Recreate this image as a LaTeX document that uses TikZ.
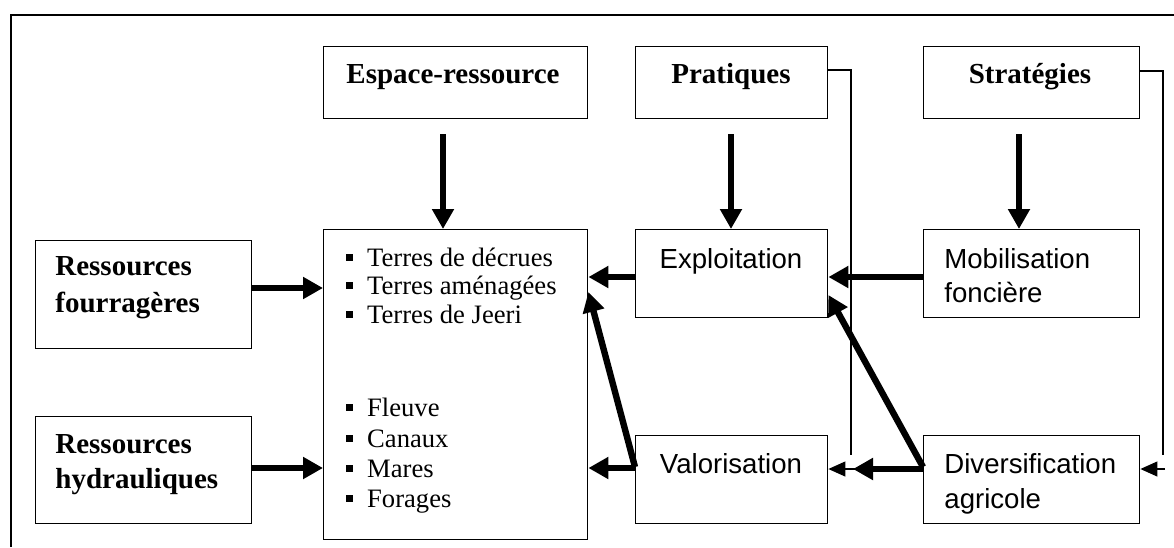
\documentclass[tikz,border=0pt]{standalone}
\usepackage{fontspec}
\setmainfont{Liberation Serif}
\newfontfamily\arialf{Liberation Sans}
\usetikzlibrary{arrows.meta}
\tikzset{
  box/.style={draw, line width=0.7pt, inner sep=0pt, anchor=north west},
  btxt/.style={inner sep=0pt, font=\fontsize{14.5}{17}\selectfont\bfseries},
  itxt/.style={inner sep=0pt, anchor=base west, font=\fontsize{13.3}{16}\selectfont},
  stxt/.style={inner sep=0pt, font=\arialf\fontsize{13.8}{17}\selectfont},
  bigarrow/.style={line width=3.2pt, -{Triangle[length=10pt,width=10.5pt]}},
  thinline/.style={line width=0.6pt},
  thinarrow/.style={line width=0.6pt, -{Triangle[length=8.5pt,width=7.5pt]}},
  frameline/.style={line width=0.8pt}
}
\newcommand{\itm}{\rule[2.6pt]{3.4pt}{3.4pt}\hspace{7pt}}
\begin{document}
\begin{tikzpicture}[x=0.5pt,y=-0.5pt]
\useasboundingbox (0,0) rectangle (1174,547);
% frame
\draw[frameline] (11,547) -- (11,15) -- (1174,15);
% boxes
\node[box, minimum width=132pt, minimum height=36pt] (esp) at (323,46) {};
\node[box, minimum width=96pt, minimum height=36pt] (pra) at (635,46) {};
\node[box, minimum width=108pt, minimum height=36pt] (str) at (923,46) {};
\node[box, minimum width=132pt, minimum height=155pt] (cen) at (323,229) {};
\node[box, minimum width=96pt, minimum height=44pt] (exp) at (635,229) {};
\node[box, minimum width=108pt, minimum height=44pt] (mob) at (923,229) {};
\node[box, minimum width=96pt, minimum height=44pt] (val) at (635,435) {};
\node[box, minimum width=108pt, minimum height=44pt] (div) at (923,435) {};
\node[box, minimum width=108pt, minimum height=54pt] (fou) at (35,240) {};
\node[box, minimum width=108pt, minimum height=53.5pt] (hyd) at (35,416) {};
% texts
\node[btxt, anchor=base] (espT) at (453,83) {Espace-ressource};
\node[btxt, anchor=base] (praT) at (731,83) {Pratiques};
\node[btxt, anchor=base] (strT) at (1030,83) {Stratégies};
\node[btxt, anchor=base west] (fouT1) at (55,275) {Ressources};
\node[btxt, anchor=base west] (fouT2) at (55,312) {fourragères};
\node[btxt, anchor=base west] (hydT1) at (55,453) {Ressources};
\node[btxt, anchor=base west] (hydT2) at (55,488) {hydrauliques};
\node[itxt] (l1) at (346,266) {\itm Terres de décrues};
\node[itxt] (l2) at (346,294) {\itm Terres aménagées};
\node[itxt] (l3) at (346,323) {\itm Terres de Jeeri};
\node[itxt] (l4) at (346,416) {\itm Fleuve};
\node[itxt] (l5) at (346,447) {\itm Canaux};
\node[itxt] (l6) at (346,477) {\itm Mares};
\node[itxt] (l7) at (346,507) {\itm Forages};
\node[stxt, anchor=base] (expT) at (731,268) {Exploitation};
\node[stxt, anchor=base] (valT) at (731,473) {Valorisation};
\node[stxt, anchor=base west] (mobT1) at (944,268) {Mobilisation};
\node[stxt, anchor=base west] (mobT2) at (944,302) {foncière};
\node[stxt, anchor=base west] (divT1) at (944,473) {Diversification};
\node[stxt, anchor=base west] (divT2) at (944,508) {agricole};
% down arrows
\draw[bigarrow, shorten <=7.5pt] (esp.south -| 443,0) -- (cen.north -| 443,0);
\draw[bigarrow, shorten <=7.5pt] (pra.south -| 731,0) -- (exp.north -| 731,0);
\draw[bigarrow, shorten <=7.5pt] (str.south -| 1019,0) -- (mob.north -| 1019,0);
% horizontal thick arrows
\draw[bigarrow] (fou.east |- 0,288) -- (cen.west |- 0,288);
\draw[bigarrow] (hyd.east |- 0,468) -- (cen.west |- 0,468);
\draw[bigarrow] (exp.west |- 0,277) -- (cen.east |- 0,277);
\draw[bigarrow] (mob.west |- 0,277) -- (exp.east |- 0,277);
\draw[bigarrow] (val.west |- 0,468) -- (cen.east |- 0,468);
\coordinate (vtip) at (853,469);
\draw[bigarrow] (div.west |- 0,469) -- (vtip);
% diagonal arrows
\draw[bigarrow] (val.west |- 0,467) -- (cen.east |- 0,292);
\draw[bigarrow] (div.west |- 0,467) -- (exp.east |- 0,295);
% thin elbow lines
\coordinate (pend) at (851,455);
\coordinate (pstart) at (855,469);
\draw[thinline] (pra.east |- 0,70) -| (pend);
\draw[thinarrow] (pstart) -- (val.east |- 0,469);
\coordinate (send) at (1163,455);
\coordinate (sstart) at (1165,469);
\draw[thinline] (str.east |- 0,71) -| (send);
\draw[thinarrow] (sstart) -- (div.east |- 0,469);
\end{tikzpicture}
\end{document}
